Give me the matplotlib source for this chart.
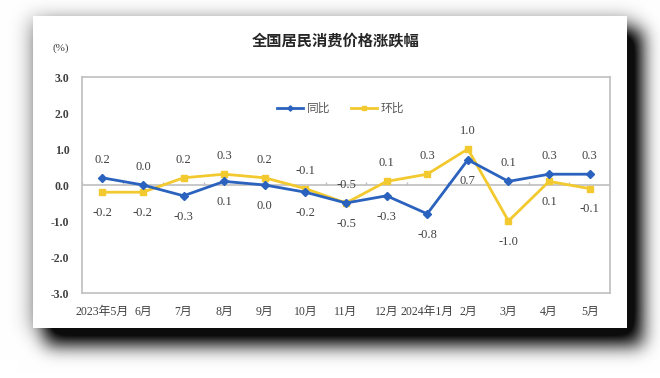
import numpy as np
import matplotlib
matplotlib.use("Agg")
import matplotlib.pyplot as plt
from matplotlib.patches import Rectangle

months = ["2023年5月", "6月", "7月", "8月", "9月", "10月", "11月", "12月",
          "2024年1月", "2月", "3月", "4月", "5月"]
yoy = [0.2, 0.0, -0.3, 0.1, 0.0, -0.2, -0.5, -0.3, -0.8, 0.7, 0.1, 0.3, 0.3]
mom = [-0.2, -0.2, 0.2, 0.3, 0.2, -0.1, -0.5, 0.1, 0.3, 1.0, -1.0, 0.1, -0.1]
yoy_above = [True, True, False, False, False, False, False, False, False, False, True, True, True]
mom_above = [False, False, True, True, True, True, True, True, True, True, False, False, False]
yticks = [-3.0, -2.0, -1.0, 0.0, 1.0, 2.0, 3.0]

BLUE = "#2A62BE"
YELLOW = "#F2C92F"
GRAY = "#BFBFBF"
SERIF = ["Liberation Serif", "Noto Sans CJK SC"]

W, H = 660, 378
fig = plt.figure(figsize=(W / 100, H / 100), dpi=100)

# ---- background: card with drop shadow ----
bg = fig.add_axes([0, 0, 1, 1])
bg.set_xlim(0, W)
bg.set_ylim(H, 0)
bg.axis("off")

yy, xx = np.mgrid[0:H, 0:W]

def blur(a, s):
    r = int(3 * s)
    k = np.exp(-0.5 * (np.arange(-r, r + 1) / s) ** 2)
    k /= k.sum()
    a = np.apply_along_axis(lambda m: np.convolve(np.pad(m, r, mode="edge"), k, mode="valid"), 0, a)
    a = np.apply_along_axis(lambda m: np.convolve(np.pad(m, r, mode="edge"), k, mode="valid"), 1, a)
    return a

main = ((xx >= 45) & (xx <= 642) & (yy >= 30) & (yy <= 345)).astype(float)
halo = ((xx >= 30) & (xx <= 632) & (yy >= 18) & (yy <= 330)).astype(float)
sh = np.clip(0.95 * blur(main, 9) + 0.35 * blur(halo, 10), 0, 0.95)
shade = 1 - sh
img = np.dstack([shade, shade, shade])
bg.imshow(img, extent=(0, W, H, 0), interpolation="bilinear", aspect="auto")
bg.add_patch(Rectangle((33, 16), 594, 312, facecolor="white", edgecolor="none"))

# title and unit
fig.text(336 / W, 1 - 40 / H, "全国居民消费价格涨跌幅", ha="center", va="center",
         fontsize=11, family=["Noto Sans CJK SC", "DejaVu Sans"], fontweight="bold",
         color="#262626")
fig.text(61 / W, 1 - 48 / H, "(%)", ha="center", va="center", fontsize=8,
         family=SERIF, color="#404040")

# ---- main axes ----
left, right, top, bottom = 82, 610, 77, 293
ax = fig.add_axes([left / W, 1 - bottom / H, (right - left) / W, (bottom - top) / H])
ax.set_facecolor("white")
x = np.arange(len(months))
ax.set_xlim(-0.5, len(months) - 0.5)
ax.set_ylim(min(yticks), max(yticks))

ax.axhline(0, color=GRAY, lw=1.2, zorder=1)
ax.vlines(np.arange(len(months) + 1) - 0.5, 0, 0.08, color=GRAY, lw=1, zorder=1)

ax.plot(x, yoy, color=BLUE, lw=2.0, marker="D", ms=4.5, label="同比", zorder=3)
ax.plot(x, mom, color=YELLOW, lw=2.0, marker="s", ms=4, label="环比", zorder=2)

for xi, v, up in zip(x, yoy, yoy_above):
    ax.annotate(f"{v:.1f}", (xi, v), xytext=(0, 13 if up else -15), textcoords="offset points",
                ha="center", va="center", fontsize=9, family=SERIF, color="#404040")
for xi, v, up in zip(x, mom, mom_above):
    ax.annotate(f"{v:.1f}", (xi, v), xytext=(0, 13 if up else -15), textcoords="offset points",
                ha="center", va="center", fontsize=9, family=SERIF, color="#404040")

ax.set_yticks(yticks)
ax.set_yticklabels([f"{t:.1f}" for t in yticks], family=SERIF, fontsize=8.5,
                   fontweight="bold", color="#404040")
ax.set_xticks(x)
ax.set_xticklabels(months, family=SERIF, fontsize=8.5, color="#404040")
ax.tick_params(axis="y", length=0, pad=9)
ax.tick_params(axis="x", length=0, pad=9)
for sp in ax.spines.values():
    sp.set_color(GRAY)
    sp.set_linewidth(1.2)

leg = ax.legend(loc="center", bbox_to_anchor=(0.49, 0.855), ncol=2, frameon=False,
                prop={"family": ["Noto Sans CJK SC", "DejaVu Sans"], "size": 8.5},
                handlelength=2.2, handletextpad=0.3, columnspacing=1.8, markerscale=0.6)
for t in leg.get_texts():
    t.set_color("#595959")

fig.savefig("out.png", dpi=100)
